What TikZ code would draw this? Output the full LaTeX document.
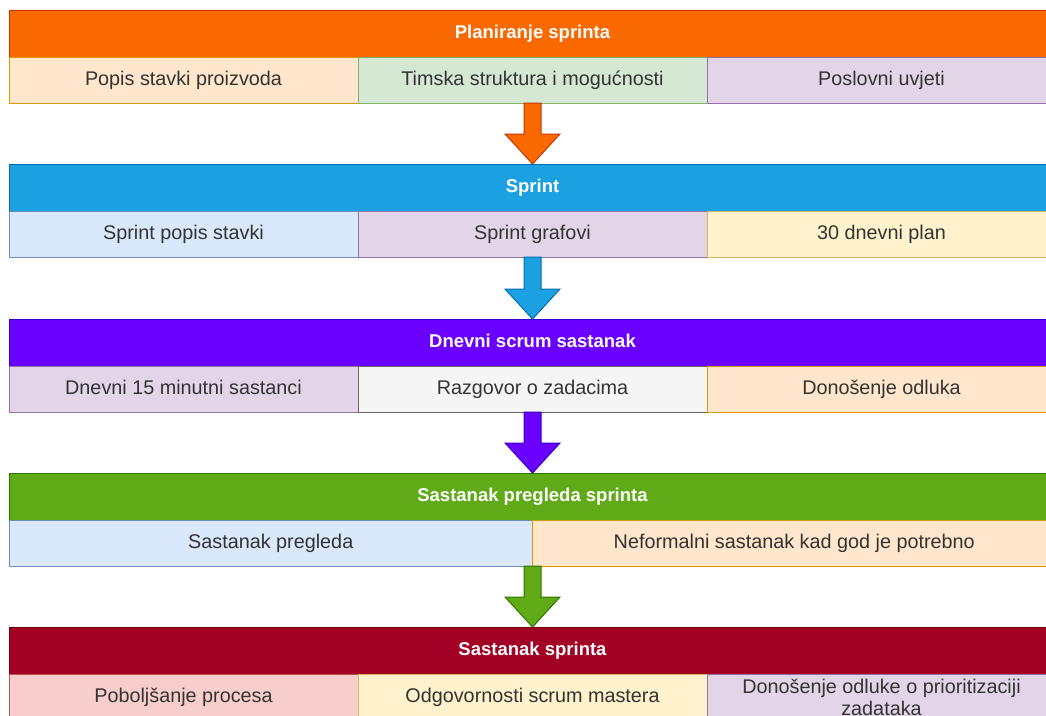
\documentclass[tikz,border=0pt]{standalone}
\usepackage{fontspec}
\setmainfont{Liberation Sans}
\usetikzlibrary{positioning,calc}
\definecolor{txt}{HTML}{333333}
\definecolor{planF}{HTML}{FA6800}\definecolor{planD}{HTML}{C73500}
\definecolor{sprF}{HTML}{1BA1E2}\definecolor{sprD}{HTML}{006EAF}
\definecolor{dneF}{HTML}{6A00FF}\definecolor{dneD}{HTML}{3700CC}
\definecolor{preF}{HTML}{60A917}\definecolor{preD}{HTML}{2D7600}
\definecolor{sasF}{HTML}{A20025}\definecolor{sasD}{HTML}{6F0000}
\definecolor{orF}{HTML}{FFE6CC}\definecolor{orD}{HTML}{D79B00}
\definecolor{grF}{HTML}{D5E8D4}\definecolor{grD}{HTML}{82B366}
\definecolor{puF}{HTML}{E1D5E7}\definecolor{puD}{HTML}{9673A6}
\definecolor{blF}{HTML}{DAE8FC}\definecolor{blD}{HTML}{6C8EBF}
\definecolor{yeF}{HTML}{FFF2CC}\definecolor{yeD}{HTML}{D6B656}
\definecolor{gyF}{HTML}{F5F5F5}\definecolor{gyD}{HTML}{666666}
\definecolor{reF}{HTML}{F8CECC}\definecolor{reD}{HTML}{B85450}
\begin{document}
\begin{tikzpicture}[x=1pt, y=-1pt,
    hdr/.style={draw, line width=1pt, outer sep=0, inner sep=0, minimum width=1047, minimum height=47, text height=13.3, text depth=3.9, text=white, font=\fontsize{18.5}{22}\selectfont\bfseries},
    cellbase/.style={draw, line width=1pt, outer sep=0, inner sep=0, minimum width=349, minimum height=46, text=txt, align=center, font=\fontsize{19.8}{23}\selectfont},
    cell/.style={cellbase, text height=14.2, text depth=4.2},
    wide/.style={cell, minimum width=523.5},
    blk/.style={line width=1pt}]
\clip (0,0) rectangle (1046,715);

\node[hdr, fill=planF, draw=planD] (plan) at (532.5,33.5) {Planiranje sprinta};
\node[cell, anchor=north west, fill=orF, draw=orD] (plan1) at (plan.south west) {Popis stavki proizvoda};
\node[cell, right=0pt of plan1, fill=grF, draw=grD] (plan2) {Timska struktura i mogućnosti};
\node[cell, right=0pt of plan2, fill=puF, draw=puD] (plan3) {Poslovni uvjeti};

\node[hdr, fill=sprF, draw=sprD] (spr) at (532.5,187.5) {Sprint};
\node[cell, anchor=north west, fill=blF, draw=blD] (spr1) at (spr.south west) {Sprint popis stavki};
\node[cell, right=0pt of spr1, fill=puF, draw=puD] (spr2) {Sprint grafovi};
\node[cell, right=0pt of spr2, fill=yeF, draw=yeD] (spr3) {30 dnevni plan};

\node[hdr, fill=dneF, draw=dneD] (dne) at (532.5,342.5) {Dnevni scrum sastanak};
\node[cell, anchor=north west, fill=puF, draw=puD] (dne1) at (dne.south west) {Dnevni 15 minutni sastanci};
\node[cell, right=0pt of dne1, fill=gyF, draw=gyD] (dne2) {Razgovor o zadacima};
\node[cell, right=0pt of dne2, fill=orF, draw=orD] (dne3) {Donošenje odluka};

\node[hdr, fill=preF, draw=preD] (pre) at (532.5,496.5) {Sastanak pregleda sprinta};
\node[wide, anchor=north west, fill=blF, draw=blD] (pre1) at (pre.south west) {Sastanak pregleda};
\node[wide, right=0pt of pre1, fill=orF, draw=orD] (pre2) {Neformalni sastanak kad god je potrebno};

\node[hdr, fill=sasF, draw=sasD] (sas) at (532.5,650.5) {Sastanak sprinta};
\node[cell, anchor=north west, fill=reF, draw=reD] (sas1) at (sas.south west) {Poboljšanje procesa};
\node[cell, right=0pt of sas1, fill=yeF, draw=yeD] (sas2) {Odgovornosti scrum mastera};
\node[cellbase, right=0pt of sas2, fill=puF, draw=puD, font=\fontsize{19.8}{22}\selectfont] (sas3) {Donošenje odluke o prioritizaciji\\zadataka};

\foreach \a/\b/\f/\d in {plan2.south/spr/planF/planD, spr2.south/dne/sprF/sprD, dne2.south/pre/dneF/dneD, pre1.south east/sas/preF/preD}
{
    \draw[blk, fill=\f, draw=\d] ($(\a)+(-8.5,0)$) -- ($(\b.north)+(-8.5,-30)$) -- ($(\b.north)+(-27.5,-30)$)
        -- (\b.north) -- ($(\b.north)+(27.5,-30)$) -- ($(\b.north)+(8.5,-30)$) -- ($(\a)+(8.5,0)$) -- cycle;
}
\end{tikzpicture}
\end{document}
